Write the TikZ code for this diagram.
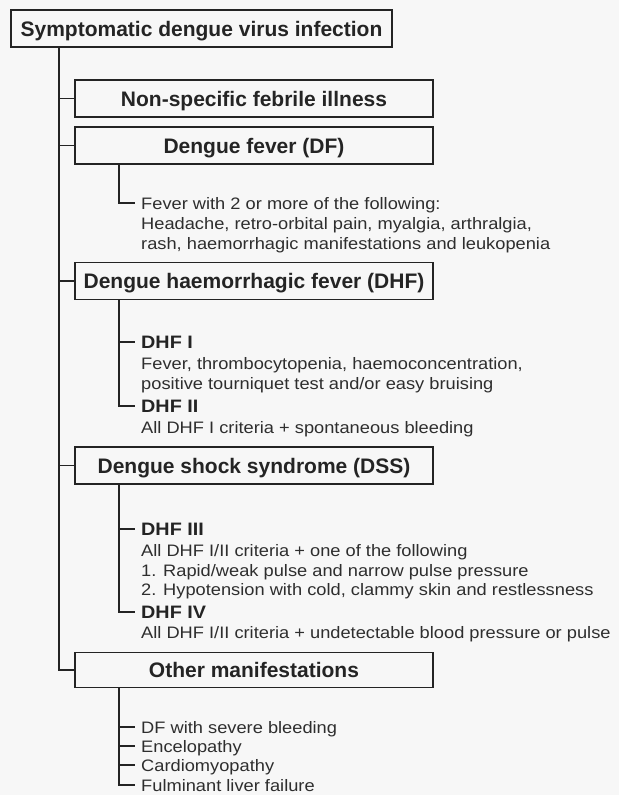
\documentclass[tikz,border=0pt]{standalone}
\usepackage{fontspec}
\setmainfont{Liberation Sans}
\newfontfamily\hdfont{Liberation Sans}
\newfontfamily\txfont{Liberation Sans}[FakeStretch=1.1]
\definecolor{bg}{HTML}{F7F7F7}
\definecolor{ink}{HTML}{242424}
\definecolor{txt}{HTML}{2E2E2E}
\tikzset{
  hbox/.style={draw=ink, line width=1.8pt, minimum width=358pt, minimum height=37pt,
    inner sep=0pt, text=ink, font=\hdfont\bfseries\fontsize{21}{24}\selectfont,
    text height=15pt, text depth=0pt},
  conn/.style={draw=ink, line width=1.8pt},
  txl/.style={anchor=west, inner xsep=6pt, inner ysep=0pt, text=txt,
    font=\txfont\fontsize{16.6}{20}\selectfont, text height=12pt, text depth=0pt},
  lbl/.style={anchor=west, inner xsep=6pt, inner ysep=0pt, text=ink,
    font=\txfont\bfseries\fontsize{18}{20}\selectfont, text height=13pt, text depth=0pt},
}
\begin{document}
\begin{tikzpicture}[x=1pt,y=-1pt]
\fill[bg] (0,0) rectangle (619,795);
\useasboundingbox (0,0) rectangle (619,795);
% boxes
\node[hbox, minimum width=381pt] (top) at (201.5,28.5) {Symptomatic dengue virus infection};
\node[hbox] (nsf) at (254,98.5) {Non-specific febrile illness};
\node[hbox] (df) at (254,145.5) {Dengue fever (DF)};
\node[hbox] (dhf) at (254,281) {Dengue haemorrhagic fever (DHF)};
\node[hbox] (dss) at (254,465.5) {Dengue shock syndrome (DSS)};
\node[hbox, minimum height=35pt] (other) at (254,670) {Other manifestations};
% DF text
\node[txl] (f1) at (135,203) {Fever with 2 or more of the following:};
\node[txl] (f2) at (135,223) {Headache, retro-orbital pain, myalgia, arthralgia,};
\node[txl] (f3) at (135,243) {rash, haemorrhagic manifestations and leukopenia};
% DHF text
\node[lbl] (d1) at (135,342) {DHF I};
\node[txl] (d1a) at (135,363) {Fever, thrombocytopenia, haemoconcentration,};
\node[txl] (d1b) at (135,383) {positive tourniquet test and/or easy bruising};
\node[lbl] (d2) at (135,406) {DHF II};
\node[txl] (d2a) at (135,427) {All DHF I criteria + spontaneous bleeding};
% DSS text
\node[lbl] (d3) at (135,529) {DHF III};
\node[txl] (d3a) at (135,550) {All DHF I/II criteria + one of the following};
\node[txl] (d3b) at (135,570) {1. Rapid/weak pulse and narrow pulse pressure};
\node[txl] (d3c) at (135,589) {2. Hypotension with cold, clammy skin and restlessness};
\node[lbl] (d4) at (135,612) {DHF IV};
\node[txl] (d4a) at (135,632) {All DHF I/II criteria + undetectable blood pressure or pulse};
% Other text
\node[txl] (o1) at (135,727) {DF with severe bleeding};
\node[txl] (o2) at (135,746) {Encelopathy};
\node[txl] (o3) at (135,765) {Cardiomyopathy};
\node[txl] (o4) at (135,785) {Fulminant liver failure};
% connectors
\coordinate (trunk) at (59,0);
\coordinate (br) at (119,0);
\draw[conn] (top.south -| trunk) |- (other.west);
\foreach \n in {nsf,df,dhf,dss} \draw[conn] (trunk |- \n.west) -- (\n.west);
\draw[conn] (df.south -| br) |- (f1.west);
\draw[conn] (dhf.south -| br) |- (d2.west);
\draw[conn] (br |- d1.west) -- (d1.west);
\draw[conn] (dss.south -| br) |- (d4.west);
\draw[conn] (br |- d3.west) -- (d3.west);
\draw[conn] (other.south -| br) |- (o4.west);
\foreach \n in {o1,o2,o3} \draw[conn] (br |- \n.west) -- (\n.west);
\end{tikzpicture}
\end{document}
